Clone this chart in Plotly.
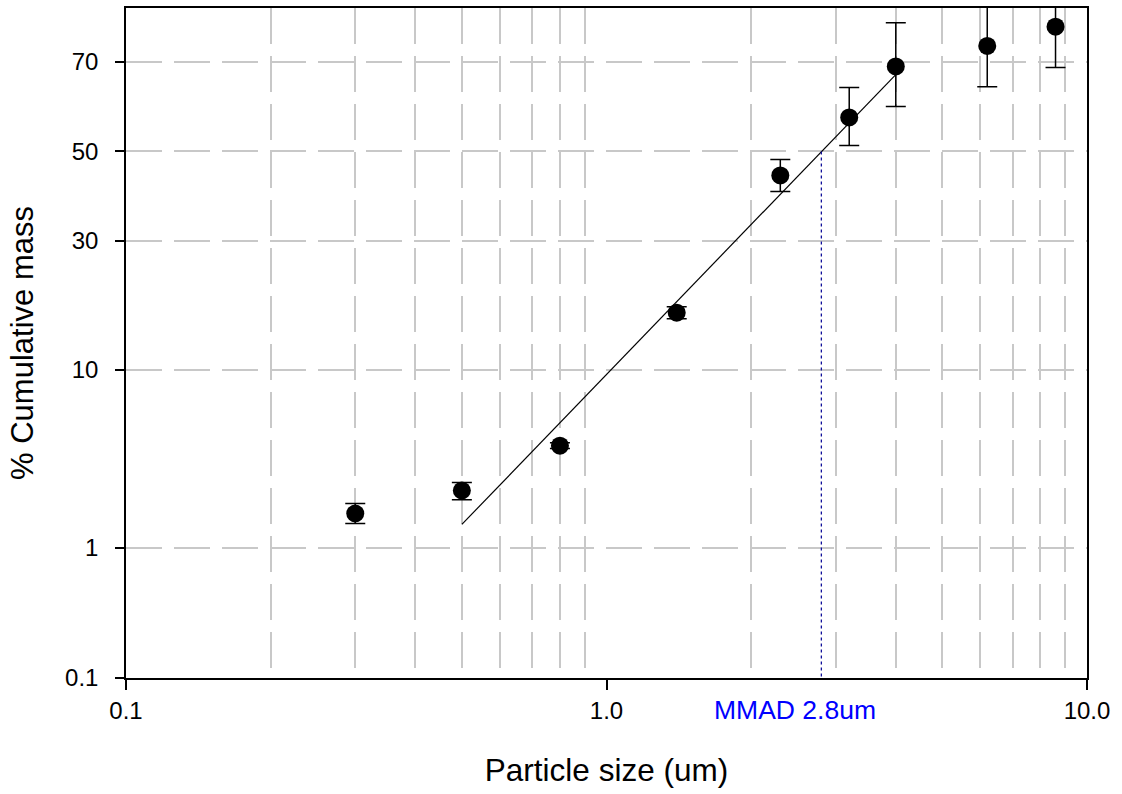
import math
import plotly.graph_objects as go
from statistics import NormalDist

# ---- data ----
particle_size = [0.3, 0.5, 0.8, 1.4, 2.3, 3.2, 4.0, 6.2, 8.6]          # um
cum_mass      = [1.68, 2.33, 4.21, 17.2, 44.4, 57.9, 69.1, 73.2, 76.8]  # %
err_upper     = [1.94, 2.60, 4.37, 18.1, 48.1, 64.6, 77.5, 80.5, 83.4]  # % (upper bar end)
err_lower     = [1.45, 2.05, 4.06, 16.3, 40.7, 51.4, 60.4, 64.8, 68.9]  # % (lower bar end)

fit_x = [0.5, 4.0]      # um
fit_y = [1.43, 67.4]    # %

mmad = 2.8              # um
mmad_level = 50.0       # %

y_tick_labels = [0.1, 1, 10, 30, 50, 70]
x_tick_vals = [0.1, 1.0, 10.0]
x_tick_text = ["0.1", "1.0", "10.0"]
x_minor_vals = [0.2, 0.3, 0.4, 0.5, 0.6, 0.7, 0.8, 0.9, 2, 3, 4, 5, 6, 7, 8, 9]
y_range_pct = [0.1, 80.0]

nd = NormalDist()
def probit(p):
    return nd.inv_cdf(p / 100.0)

z = [probit(v) for v in cum_mass]
z_up = [probit(u) - probit(v) for u, v in zip(err_upper, cum_mass)]
z_dn = [probit(v) - probit(l) for l, v in zip(err_lower, cum_mass)]

FONT = "Liberation Sans, Arial, sans-serif"
GRID = "#c8c8c8"

fig = go.Figure()

fig.add_trace(go.Scatter(
    x=fit_x, y=[probit(v) for v in fit_y], mode="lines",
    line=dict(color="black", width=1.2), showlegend=False, hoverinfo="skip"))

fig.add_trace(go.Scatter(
    x=[mmad, mmad], y=[probit(mmad_level), probit(y_range_pct[0])], mode="lines",
    line=dict(color="#10109a", width=1.3, dash="dot"), showlegend=False, hoverinfo="skip"))

fig.add_trace(go.Scatter(
    x=particle_size, y=z, mode="markers",
    marker=dict(color="black", size=18),
    error_y=dict(type="data", symmetric=False, array=z_up, arrayminus=z_dn,
                 color="black", thickness=1.5, width=10),
    showlegend=False))

fig.add_annotation(
    x=math.log10(mmad), xref="x", y=0, yref="paper", text="MMAD 2.8um", showarrow=False,
    xanchor="center", yanchor="middle", xshift=-26, yshift=-32,
    font=dict(family=FONT, size=26.5, color="#0000ff"))

fig.update_layout(
    width=1122, height=794,
    margin=dict(l=126, r=35, t=6, b=116),
    paper_bgcolor="white", plot_bgcolor="white",
    font=dict(family=FONT, size=24, color="black"),
    xaxis=dict(
        type="log", range=[-1, 1],
        tickmode="array", tickvals=x_tick_vals, ticktext=x_tick_text,
        ticks="outside", ticklen=10, tickwidth=1.5, tickcolor="black",
        showgrid=False, zeroline=False,
        showline=True, linecolor="black", linewidth=1.5, mirror=True,
        tickfont=dict(size=24),
        minor=dict(tickmode="array", tickvals=x_minor_vals, showgrid=True,
                   gridcolor=GRID, gridwidth=1.5, griddash="36px,12px", ticks=""),
        title=dict(text="Particle size (um)", font=dict(size=31.5), standoff=36),
    ),
    yaxis=dict(
        range=[probit(y_range_pct[0]), probit(y_range_pct[1])],
        tickmode="array", tickvals=[probit(v) for v in y_tick_labels],
        ticktext=[str(v) for v in y_tick_labels],
        ticks="outside", ticklen=9, tickwidth=1.5, tickcolor="black",
        ticklabelstandoff=12,
        showgrid=True, gridcolor=GRID, gridwidth=1.5, griddash="36px,12px",
        zeroline=False,
        showline=True, linecolor="black", linewidth=1.5, mirror=True,
        tickfont=dict(size=24),
        title=dict(text="% Cumulative mass", font=dict(size=31), standoff=22),
    ),
)

fig.write_html("out.html")
